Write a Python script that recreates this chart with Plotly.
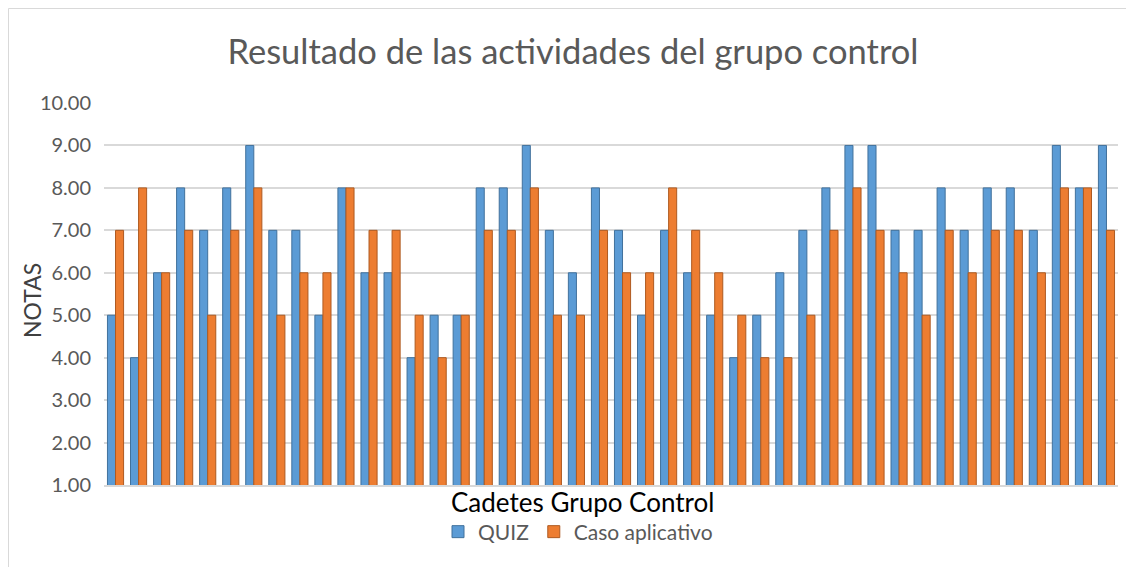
import plotly.graph_objects as go

cadetes = [str(i) for i in range(1, 45)]
quiz = [5, 4, 6, 8, 7, 8, 9, 7, 7, 5, 8, 6, 6, 4, 5, 5, 8, 8, 9, 7, 6, 8,
        7, 5, 7, 6, 5, 4, 5, 6, 7, 8, 9, 9, 7, 7, 8, 7, 8, 8, 7, 9, 8, 9]
caso = [7, 8, 6, 7, 5, 7, 8, 5, 6, 6, 8, 7, 7, 5, 4, 5, 7, 7, 8, 5, 5, 7,
        6, 6, 8, 7, 6, 5, 4, 4, 5, 7, 8, 7, 6, 5, 7, 6, 7, 7, 6, 8, 8, 7]
y_ticks = [1, 2, 3, 4, 5, 6, 7, 8, 9, 10]

W, H = 1134, 567
OFF = 8  # page body margin
ml, mr, mt, mb = 96, 24, 95, 90
FONT = "Lato"

fig = go.Figure()
fig.add_trace(go.Bar(x=cadetes, y=quiz, name="QUIZ",
                     marker=dict(color="#5b9bd5", line=dict(color="#41719c", width=1))))
fig.add_trace(go.Bar(x=cadetes, y=caso, name="Caso aplicativo",
                     marker=dict(color="#ed7d31", line=dict(color="#ae5a21", width=1))))

pw = W - ml - mr
ph = H - mt - mb
def px_x(v):
    return (v - OFF - ml) / pw
def px_y(v):
    return (H - mb - (v - OFF)) / ph

fig.update_layout(
    width=W, height=H,
    margin=dict(l=ml, r=mr, t=mt, b=mb),
    paper_bgcolor="white", plot_bgcolor="white",
    barmode="group", bargap=0.3, bargroupgap=0.0,
    font=dict(family=FONT),
    title=dict(text="Resultado de las actividades del grupo control",
               x=(573 - OFF) / W, xref="container", xanchor="center",
               y=1 - (52 - OFF) / H, yref="container", yanchor="middle",
               font=dict(size=34.5, color="#595959", family=FONT)),
    xaxis=dict(showticklabels=False, showgrid=False, zeroline=False,
               showline=True, linecolor="#d9d9d9", linewidth=1.5, ticks=""),
    yaxis=dict(range=[1, 10], tickvals=y_ticks, tickformat=".2f",
               showgrid=True, gridcolor="#d9d9d9", gridwidth=1.5,
               zeroline=False, showline=False,
               ticks="outside", ticklen=8, tickcolor="white",
               tickfont=dict(size=20, color="#595959", family=FONT)),
    legend=dict(orientation="h", x=px_x(578), xanchor="center",
                y=px_y(532), yanchor="middle",
                font=dict(size=21, color="#595959", family=FONT),
                itemwidth=30, tracegroupgap=0),
    showlegend=True,
)
fig.add_annotation(text="NOTAS", xref="paper", yref="paper",
                   x=px_x(32), y=px_y(301), xanchor="center", yanchor="middle",
                   textangle=-90, showarrow=False,
                   font=dict(size=23, color="#404040", family=FONT))
fig.add_annotation(text="Cadetes Grupo Control", xref="paper", yref="paper",
                   x=px_x(582), y=px_y(502), xanchor="center", yanchor="middle",
                   showarrow=False, font=dict(size=26, color="#000000", family=FONT))
fig.add_shape(type="rect", xref="paper", yref="paper",
              x0=px_x(8.5), x1=px_x(1160), y0=px_y(1200), y1=px_y(8.5),
              line=dict(color="#d9d9d9", width=1), fillcolor="rgba(0,0,0,0)", layer="below")

fig.write_html("out.html")
